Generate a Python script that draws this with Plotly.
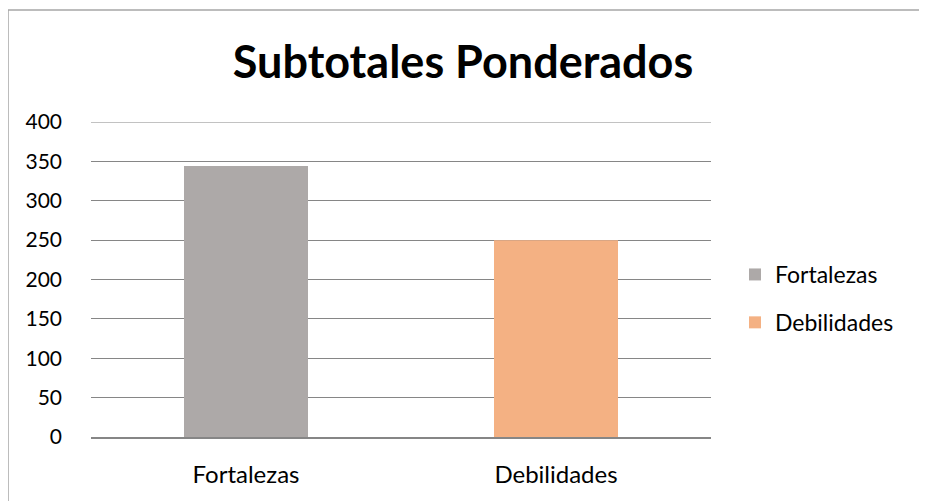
"""Subtotales Ponderados bar chart."""

import plotly.graph_objects as go

categories = ["Fortalezas", "Debilidades"]
values = [344, 250]
colors = ["#ADA9A8", "#F4B183"]
y_max = 400
y_step = 50

FONT = "Lato, Carlito, Calibri, sans-serif"

# the page adds an 8px body margin, so the figure is drawn 8px smaller
# and every pixel position below is measured from the screenshot origin
OFF = 8
W, H = 927 - OFF, 501 - OFF
L, T = 91 - OFF, 122 - OFF
plot_w, plot_h = 620, 315
R = W - L - plot_w
B = H - T - plot_h


def px_x(x):
    return (x - OFF - L) / plot_w


def px_y(y):
    return (T + plot_h - (y - OFF)) / plot_h


fig = go.Figure()
for i, (cat, val, col) in enumerate(zip(categories, values, colors)):
    fig.add_trace(
        go.Bar(
            x=[cat],
            y=[val],
            name=cat,
            marker={"color": col, "line": {"width": 0}},
            width=0.4,
            legendgroup=f"g{i}",
        )
    )

# plotly drops the gridline sitting on the top edge, so draw it explicitly
fig.add_hline(y=y_max, line={"color": "#868686", "width": 1}, layer="below")

# outer chart border (left + top visible in reference)
fig.add_shape(
    type="rect",
    xref="paper",
    yref="paper",
    x0=px_x(8),
    x1=px_x(945),
    y0=px_y(540),
    y1=px_y(10),
    line={"color": "#A6A6A6", "width": 1.5},
    fillcolor="rgba(0,0,0,0)",
    layer="below",
)

fig.update_layout(
    width=W,
    height=H,
    barmode="overlay",
    paper_bgcolor="white",
    plot_bgcolor="white",
    margin={"l": L, "r": R, "t": T, "b": B, "pad": 0},
    title={
        "text": "<b>Subtotales Ponderados</b>",
        "x": px_x(463),
        "xanchor": "center",
        "xref": "paper",
        "y": (H - (62 - OFF)) / H,
        "yanchor": "middle",
        "font": {"family": FONT, "size": 45, "color": "#000000"},
    },
    font={"family": FONT, "size": 24, "color": "#000000"},
    showlegend=True,
    legend={
        "x": px_x(735),
        "xanchor": "left",
        "y": px_y(253),
        "yanchor": "top",
        "traceorder": "grouped",
        "tracegroupgap": 15,
        "font": {"family": FONT, "size": 23, "color": "#000000"},
        "bgcolor": "rgba(0,0,0,0)",
        "itemclick": False,
    },
    xaxis={
        "showgrid": False,
        "showline": True,
        "linecolor": "#868686",
        "linewidth": 1.5,
        "ticks": "",
        "tickfont": {"family": FONT, "size": 24},
        "ticklabelstandoff": 15,
    },
    yaxis={
        "range": [0, y_max],
        "dtick": y_step,
        "showgrid": True,
        "gridcolor": "#868686",
        "gridwidth": 1,
        "showline": False,
        "zeroline": False,
        "ticks": "",
        "tickfont": {"family": FONT, "size": 21},
        "ticklabelstandoff": 28,
    },
)

fig.write_html("out.html")
